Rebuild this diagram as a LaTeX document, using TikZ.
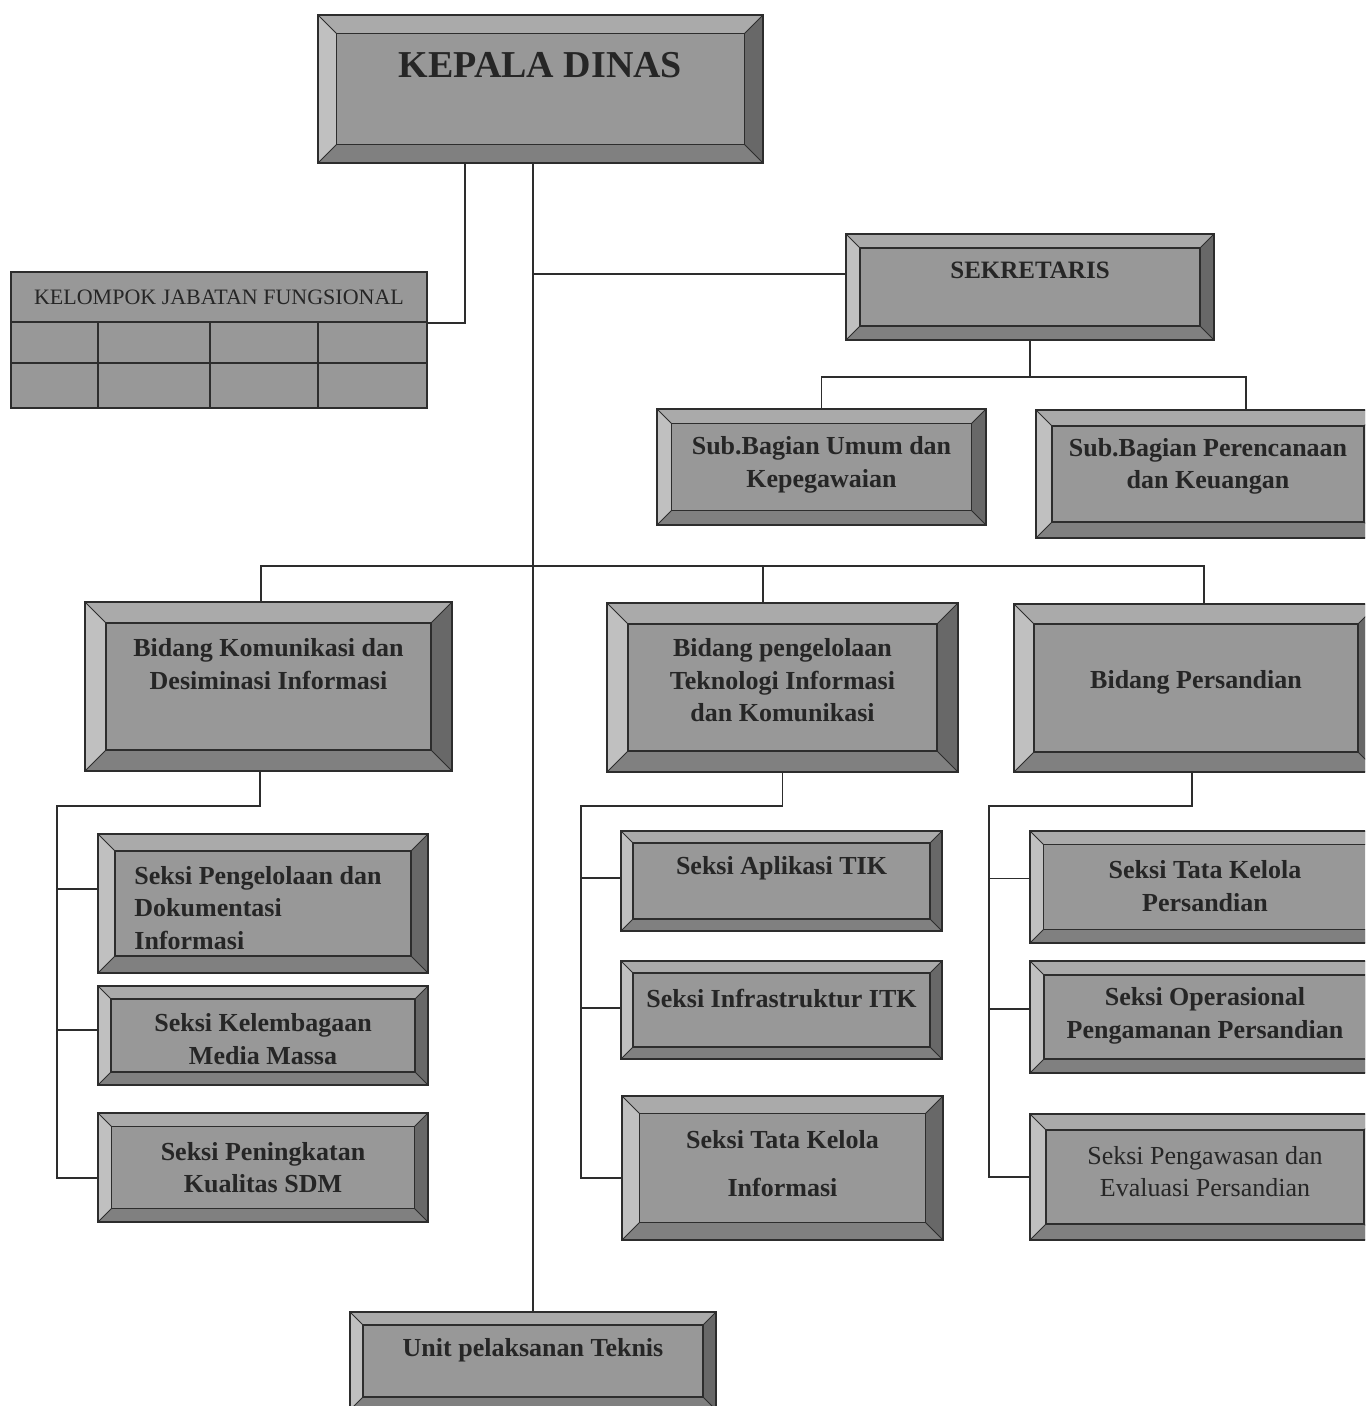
\documentclass[tikz,border=0pt]{standalone}
\usepackage{fontspec}
\setmainfont{Liberation Serif}

\definecolor{facegray}{RGB}{152,152,152}
\definecolor{bevtop}{RGB}{170,170,170}
\definecolor{bevleft}{RGB}{192,192,192}
\definecolor{bevright}{RGB}{104,104,104}
\definecolor{bevbot}{RGB}{128,128,128}
\definecolor{linegray}{RGB}{45,45,45}
\definecolor{txtgray}{RGB}{38,38,38}

\def\rimw{8pt}
\tikzset{
	rim/.store in=\rimw,
	sz/.style 2 args={minimum width=#1pt, minimum height=#2pt},
	link/.style={draw=linegray, line width=0.75pt},
	ubox/.style={draw=linegray, line width=0.8pt, fill=facegray, inner sep=0pt,
		path picture={
			\coordinate (pp-nw) at (path picture bounding box.north west);
			\coordinate (pp-ne) at (path picture bounding box.north east);
			\coordinate (pp-sw) at (path picture bounding box.south west);
			\coordinate (pp-se) at (path picture bounding box.south east);
			\fill[bevtop] (pp-nw) -- (pp-ne) -- ([shift={(-\rimw,-\rimw)}]pp-ne) -- ([shift={(\rimw,-\rimw)}]pp-nw) -- cycle;
			\fill[bevleft] (pp-nw) -- ([shift={(\rimw,-\rimw)}]pp-nw) -- ([shift={(\rimw,\rimw)}]pp-sw) -- (pp-sw) -- cycle;
			\fill[bevright] (pp-ne) -- (pp-se) -- ([shift={(-\rimw,\rimw)}]pp-se) -- ([shift={(-\rimw,-\rimw)}]pp-ne) -- cycle;
			\fill[bevbot] (pp-sw) -- (pp-se) -- ([shift={(-\rimw,\rimw)}]pp-se) -- ([shift={(\rimw,\rimw)}]pp-sw) -- cycle;
			\draw[linegray, line width=0.8pt] ([shift={(\rimw,-\rimw)}]pp-nw) rectangle ([shift={(-\rimw,\rimw)}]pp-se);
			\draw[linegray, line width=0.5pt] (pp-nw) -- ++(\rimw,-\rimw) (pp-ne) -- ++(-\rimw,-\rimw)
				(pp-sw) -- ++(\rimw,\rimw) (pp-se) -- ++(-\rimw,\rimw);
		}},
	boxlbl/.style={font=\bfseries\fontsize{13}{16.3}\selectfont, align=center, text=txtgray, inner sep=0pt},
	kjfcell/.style={draw=linegray, line width=0.8pt, fill=facegray, inner sep=0pt, text=txtgray},
}

\begin{document}
\begin{tikzpicture}[x=0.5pt,y=-0.5pt]
	\useasboundingbox (0,0) rectangle (1365,1406);
	\clip (0,0) rectangle (1365,1406);

	\node[ubox, sz={222.5}{74}, rim=9.25pt, label={[boxlbl,font=\bfseries\fontsize{19}{22}\selectfont,yshift=12pt]center:KEPALA DINAS}] (kadis) at (540.5,89) {};
	\node[ubox, sz={184}{53}, rim=7pt, label={[boxlbl,font=\bfseries\fontsize{12.5}{15}\selectfont,yshift=8.5pt]center:SEKRETARIS}] (sekr) at (1030,287) {};
	\node[ubox, sz={164.5}{58}, rim=7.25pt, label={[boxlbl,yshift=1pt]center:Sub.Bagian Umum dan\\Kepegawaian}] (sub1) at (821.5,467) {};
	\node[ubox, sz={172}{64}, rim=8pt, label={[boxlbl,yshift=3.75pt]center:Sub.Bagian Perencanaan\\dan Keuangan}] (sub2) at (1208,474) {};

	\node[kjfcell, sz={208}{25}, font=\fontsize{11}{12}\selectfont] (kjf) at (219,297) {KELOMPOK JABATAN FUNGSIONAL};
	\foreach \cx/\cw [count=\c] in {54.5/43.5,154/56,264/54,372.5/54.5} {
		\node[kjfcell, sz={\cw}{20.5}] (kjf-1-\c) at (\cx,342.5) {};
		\node[kjfcell, sz={\cw}{22.5}] (kjf-2-\c) at (\cx,385.5) {};
	}

	\node[ubox, sz={183.5}{84.5}, rim=10.5pt, label={[boxlbl,yshift=11.25pt]center:Bidang Komunikasi dan\\Desiminasi Informasi}] (bid1) at (268.5,686.5) {};
	\node[ubox, sz={175.5}{84.5}, rim=10.5pt, label={[boxlbl,yshift=3.5pt]center:Bidang pengelolaan\\Teknologi Informasi\\dan Komunikasi}] (bid2) at (782.5,687.5) {};
	\node[ubox, sz={182}{84}, rim=10pt, label={[boxlbl,yshift=3pt]center:Bidang Persandian}] (bid3) at (1196,688) {};

	\node[ubox, sz={165}{69.5}, rim=8.5pt, label={[boxlbl,align=left,xshift=-2.5pt,yshift=-2.25pt]center:Seksi Pengelolaan dan\\Dokumentasi\\Informasi}] (s11) at (263,903.5) {};
	\node[ubox, sz={165}{49.5}, rim=6.5pt, label={[boxlbl,yshift=-1.75pt]center:Seksi Kelembagaan\\Media Massa}] (s12) at (263,1035.5) {};
	\node[ubox, sz={165}{54.5}, rim=6.75pt, label={[boxlbl]center:Seksi Peningkatan\\Kualitas SDM}] (s13) at (263,1167.5) {};

	\node[ubox, sz={160.5}{50}, rim=6pt, label={[boxlbl,yshift=6.5pt]center:Seksi Aplikasi TIK}] (s21) at (781.5,881) {};
	\node[ubox, sz={160.5}{49}, rim=6pt, label={[boxlbl,yshift=6pt]center:Seksi Infrastruktur ITK}] (s22) at (781.5,1010) {};
	\node[ubox, sz={160.5}{72}, rim=8.75pt, label={[boxlbl,yshift=2.25pt]center:Seksi Tata Kelola\\[8pt]Informasi}] (s23) at (782.5,1168) {};

	\node[ubox, sz={175}{56}, rim=6.75pt, label={[boxlbl,yshift=0.5pt]center:Seksi Tata Kelola\\Persandian}] (s31) at (1205,887) {};
	\node[ubox, sz={175}{56}, rim=7pt, label={[boxlbl,yshift=0.5pt]center:Seksi Operasional\\Pengamanan Persandian}] (s32) at (1205,1017) {};
	\node[ubox, sz={175}{63}, rim=8pt, label={[boxlbl,font=\fontsize{13}{16.3}\selectfont,yshift=2.75pt]center:Seksi Pengawasan dan\\Evaluasi Persandian}] (s33) at (1205,1177) {};

	\node[ubox, sz={183}{49}, rim=6.5pt, label={[boxlbl,yshift=5.5pt]center:Unit pelaksanan Teknis}] (unit) at (533,1361) {};

	\coordinate (spine) at ([xshift=-3.75pt]kadis.south);
	\draw[link] (spine) -- (spine |- unit.north);
	\draw[link] ([xshift=-37.75pt]kadis.south) |- (kjf.south east);
	\coordinate (sekr-in) at ([yshift=6.5pt]sekr.west);
	\draw[link] (sekr-in) -- (sekr-in -| spine);
	\draw[link] (sekr.south) -- ++(0,36) -| (sub1.north);
	\draw[link] (sekr.south) -- ++(0,36) -| ([xshift=19pt]sub2.north);

	\draw[link] ([xshift=-3.75pt]bid1.north) -- ++(0,-35) -| ([xshift=4pt]bid3.north);
	\draw[link] ([xshift=-9.75pt]bid2.north) -- ++(0,-36);

	\draw[link] ([xshift=-4.25pt]bid1.south) -- ++(0,34) -| ([xshift=-20pt,yshift=-5.25pt]s13.west) -- ([yshift=-5.25pt]s13.west);
	\foreach \s/\dy in {s11/7.25,s12/2.75}
		\draw[link] ([yshift=\dy pt]\s.west) -- ++(-40,0);

	\draw[link] (bid2.south) -- ++(0,33) -| ([xshift=-20pt,yshift=-5pt]s23.west) -- ([yshift=-5pt]s23.west);
	\foreach \s/\dy in {s21/1.5,s22/1}
		\draw[link] ([yshift=\dy pt]\s.west) -- ++(-39,0);

	\draw[link] ([xshift=-2pt]bid3.south) -- ++(0,33) -| ([xshift=-20pt]s33.west) -- (s33.west);
	\foreach \s/\dy in {s31/4.25,s32/4}
		\draw[link] ([yshift=\dy pt]\s.west) -- ++(-40,0);
\end{tikzpicture}
\end{document}
